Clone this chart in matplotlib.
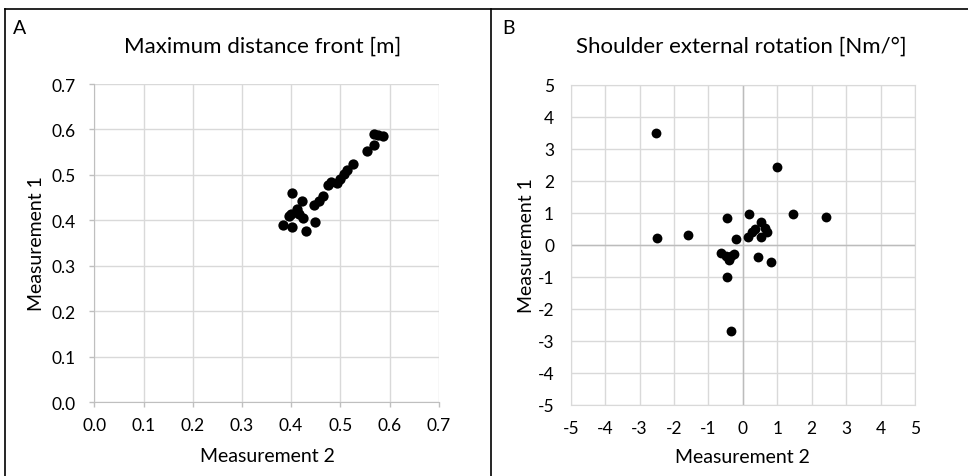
import matplotlib
matplotlib.use("Agg")
import matplotlib.pyplot as plt
from matplotlib.lines import Line2D

plt.rcParams['font.family'] = ['Lato', 'DejaVu Sans']

# Panel A: Maximum distance front [m]
a_meas2 = [0.569, 0.577, 0.587, 0.569, 0.554, 0.525, 0.514, 0.508, 0.499, 0.494,
           0.481, 0.476, 0.464, 0.457, 0.447, 0.449, 0.430, 0.402, 0.422, 0.411,
           0.399, 0.417, 0.424, 0.384, 0.402, 0.396]
a_meas1 = [0.590, 0.588, 0.585, 0.566, 0.553, 0.525, 0.511, 0.503, 0.492, 0.482,
           0.485, 0.478, 0.454, 0.443, 0.434, 0.396, 0.377, 0.460, 0.442, 0.425,
           0.414, 0.414, 0.405, 0.390, 0.385, 0.410]

# Panel B: Shoulder external rotation [Nm/deg]
b_meas2 = [-2.52, 0.98, -2.50, -1.58, -0.45, 0.19, 1.45, 2.42, -0.21, 0.52,
           0.64, 0.69, 0.35, 0.27, 0.16, 0.52, -0.64, -0.49, -0.26, -0.40,
           -0.35, 0.44, 0.82, -0.45, -0.34]
b_meas1 = [3.48, 2.44, 0.21, 0.32, 0.83, 0.96, 0.96, 0.88, 0.17, 0.72,
           0.52, 0.39, 0.49, 0.39, 0.23, 0.23, -0.27, -0.36, -0.30, -0.47,
           -0.36, -0.38, -0.54, -1.01, -2.69]

a_ticks = [0.0, 0.1, 0.2, 0.3, 0.4, 0.5, 0.6, 0.7]
b_ticks = [-5, -4, -3, -2, -1, 0, 1, 2, 3, 4, 5]

W, H = 968, 477
fig = plt.figure(figsize=(W / 100, H / 100), dpi=100)

grid_c = '#d9d9d9'
axis_c = '#bfbfbf'
txt_c = '#000000'
tick_fs = 12.5
lab_fs = 14
title_fs = 16

def frac(l, r, t, b):
    return [l / W, 1 - b / H, (r - l) / W, (b - t) / H]

def ftext(x, y, s, **kw):
    fig.text(x / W, 1 - y / H, s, color=txt_c, **kw)

# Panel A
axA = fig.add_axes(frac(94.3, 438.7, 85, 403.3))
axA.scatter(a_meas2, a_meas1, s=55, color='black', zorder=3, linewidths=0)
axA.set_xlim(0, 0.7)
axA.set_ylim(0, 0.7)
axA.set_xticks(a_ticks)
axA.set_yticks(a_ticks)
axA.set_xticklabels([f"{t:.1f}" for t in a_ticks])
axA.set_yticklabels([f"{t:.1f}" for t in a_ticks])
axA.grid(True, color=grid_c, linewidth=1.0)
axA.set_axisbelow(True)
for s in ['top', 'right']:
    axA.spines[s].set_visible(False)
for s in ['left', 'bottom']:
    axA.spines[s].set_color(axis_c)
axA.tick_params(colors=axis_c, length=3.6, width=1, labelcolor=txt_c, labelsize=tick_fs)
axA.tick_params(axis='x', pad=7)
axA.tick_params(axis='y', pad=9.5)
ftext(267, 457, 'Measurement 2', ha='center', va='center', fontsize=lab_fs)
ftext(37, 244, 'Measurement 1', ha='center', va='center', fontsize=lab_fs, rotation=90)
ftext(263, 47, 'Maximum distance front [m]', ha='center', va='center', fontsize=title_fs)
ftext(13, 29, 'A', ha='left', va='center', fontsize=14)

# Panel B
axB = fig.add_axes(frac(570.7, 915, 85.7, 406))
axB.scatter(b_meas2, b_meas1, s=50, color='black', zorder=3, linewidths=0)
axB.set_xlim(-5, 5)
axB.set_ylim(-5, 5)
axB.set_xticks(b_ticks)
axB.set_yticks(b_ticks)
axB.set_xticklabels([str(t) for t in b_ticks])
axB.set_yticklabels([str(t) for t in b_ticks])
axB.grid(True, color=grid_c, linewidth=1.0)
axB.set_axisbelow(True)
for s in axB.spines.values():
    s.set_color(grid_c)
axB.axhline(0, color='#bcbcbc', linewidth=1.0, zorder=1)
axB.axvline(0, color='#bcbcbc', linewidth=1.0, zorder=1)
axB.tick_params(length=0, labelcolor=txt_c, labelsize=tick_fs)
axB.tick_params(axis='x', pad=11)
axB.tick_params(axis='y', pad=12)
ftext(742, 458, 'Measurement 2', ha='center', va='center', fontsize=lab_fs)
ftext(526, 246, 'Measurement 1', ha='center', va='center', fontsize=lab_fs, rotation=90)
ftext(741, 47, 'Shoulder external rotation [Nm/°]', ha='center', va='center', fontsize=title_fs)
ftext(502, 29, 'B', ha='left', va='center', fontsize=14)

# Panel borders
yt = 1 - 9.7 / H
fig.add_artist(Line2D([5 / W, 1], [yt, yt], transform=fig.transFigure, color='black', linewidth=1.2))
fig.add_artist(Line2D([5 / W, 5 / W], [0, yt], transform=fig.transFigure, color='black', linewidth=1.2))
fig.add_artist(Line2D([490.7 / W, 490.7 / W], [0, yt], transform=fig.transFigure, color='black', linewidth=1.2))

fig.savefig('out.png', dpi=100, facecolor='white')
